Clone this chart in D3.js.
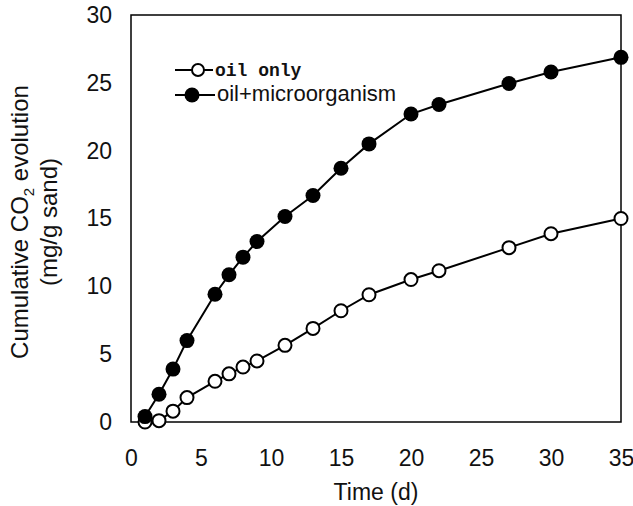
<!DOCTYPE html>
<html><head><meta charset="utf-8">
<script src="https://cdn.jsdelivr.net/npm/d3@7"></script>
<style>body{margin:0;background:#fff}</style>
</head><body>
<svg id="c" width="633" height="506"></svg>
<script>
const days = [1,2,3,4,6,7,8,9,11,13,15,17,20,22,27,30,35];
const oilOnly = [0,0.1,0.8,1.8,3.0,3.55,4.05,4.5,5.65,6.9,8.2,9.38,10.5,11.15,12.85,13.88,15.0];
const oilMicro = [0.4,2.05,3.9,6.0,9.42,10.85,12.15,13.3,15.15,16.7,18.7,20.5,22.7,23.4,24.95,25.8,26.88];
const xTicks = [0,5,10,15,20,25,30,35];
const yTicks = [0,5,10,15,20,25,30];

const svg = d3.select('#c');
const L=131,R=621,T=15,B=422;
const x = d3.scaleLinear().domain([0,35]).range([L,R]);
const y = d3.scaleLinear().domain([0,30]).range([B,T]);
const font = "Arial, 'Liberation Sans', sans-serif";

svg.append('rect').attr('x',L).attr('y',T).attr('width',R-L).attr('height',B-T)
  .attr('fill','none').attr('stroke','#000').attr('stroke-width',1.5);

const xa = svg.append('g').attr('transform',`translate(0,${B})`)
  .call(d3.axisBottom(x).tickValues(xTicks).tickSize(0).tickPadding(28).tickFormat(d3.format('d')));
xa.select('.domain').remove();
xa.selectAll('text').attr('font-family',font).attr('font-size',23).attr('fill','#111');

const ya = svg.append('g').attr('transform',`translate(${L},0)`)
  .call(d3.axisLeft(y).tickValues(yTicks).tickSize(0).tickPadding(19).tickFormat(d3.format('d')));
ya.select('.domain').remove();
ya.selectAll('text').attr('font-family',font).attr('font-size',23).attr('fill','#111');

svg.append('text').attr('x',376).attr('y',500).attr('text-anchor','middle')
  .attr('font-family',font).attr('font-size',23).attr('fill','#111').text('Time (d)');

const yt = svg.append('text').attr('transform','translate(28,222) rotate(-90)')
  .attr('text-anchor','middle').attr('font-family',font).attr('font-size',24).attr('fill','#111');
yt.append('tspan').text('Cumulative CO');
yt.append('tspan').attr('font-size',15).attr('dy',6).text('2');
yt.append('tspan').attr('dy',-6).text(' evolution');
svg.append('text').attr('transform','translate(57,222) rotate(-90)')
  .attr('text-anchor','middle').attr('font-family',font).attr('font-size',24).attr('fill','#111').text('(mg/g sand)');

const line = d3.line().x((d,i)=>x(days[i])).y(d=>y(d));
svg.append('path').datum(oilOnly).attr('d',line).attr('fill','none').attr('stroke','#000').attr('stroke-width',2);
svg.append('path').datum(oilMicro).attr('d',line).attr('fill','none').attr('stroke','#000').attr('stroke-width',2);

svg.selectAll('.o').data(oilOnly).enter().append('circle')
  .attr('cx',(d,i)=>x(days[i])).attr('cy',d=>y(d)).attr('r',6.5)
  .attr('fill','#fff').attr('stroke','#000').attr('stroke-width',2);
svg.selectAll('.f').data(oilMicro).enter().append('circle')
  .attr('cx',(d,i)=>x(days[i])).attr('cy',d=>y(d)).attr('r',7.5)
  .attr('fill','#000');

// legend
const lg = svg.append('g');
lg.append('line').attr('x1',175).attr('x2',213).attr('y1',70).attr('y2',70).attr('stroke','#000').attr('stroke-width',2);
lg.append('circle').attr('cx',198).attr('cy',70).attr('r',6).attr('fill','#fff').attr('stroke','#000').attr('stroke-width',2);
lg.append('text').attr('x',215).attr('y',76).attr('font-family',"'Liberation Mono','DejaVu Sans Mono',monospace")
  .attr('font-weight','bold').attr('font-size',18).attr('fill','#111').text('oil only');
lg.append('line').attr('x1',175).attr('x2',215).attr('y1',95).attr('y2',95).attr('stroke','#000').attr('stroke-width',2);
lg.append('circle').attr('cx',192).attr('cy',95).attr('r',7.5).attr('fill','#000');
lg.append('text').attr('x',217).attr('y',101).attr('font-family',font)
  .attr('font-size',22).attr('fill','#111').text('oil+microorganism');
</script>
</body></html>
